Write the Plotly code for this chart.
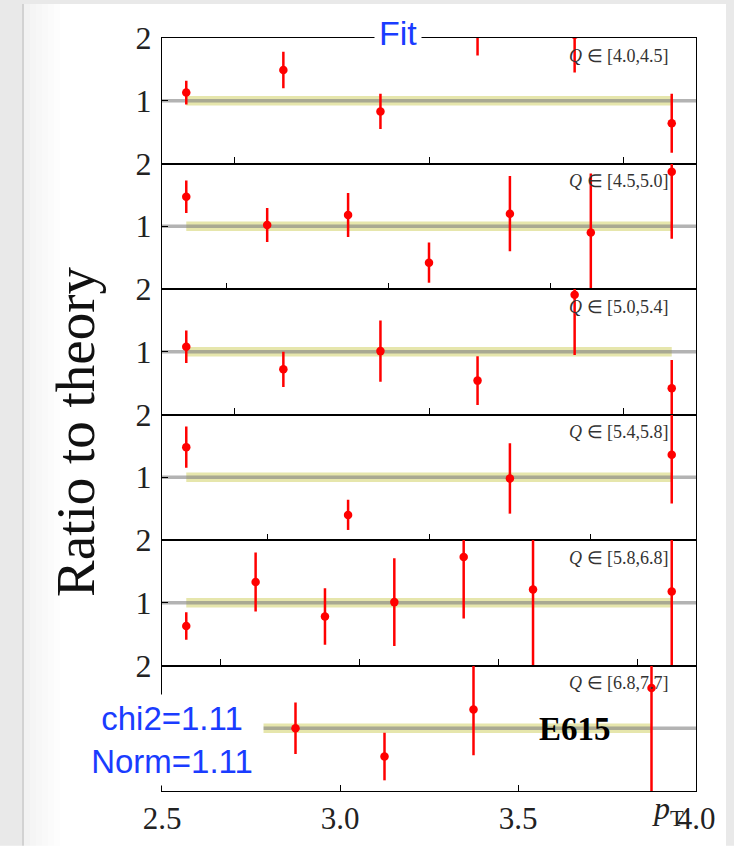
import plotly.graph_objects as go
from plotly.subplots import make_subplots

# ---------------- data ----------------
q_labels = ["[4.0,4.5]", "[4.5,5.0]", "[5.0,5.4]", "[5.4,5.8]", "[5.8,6.8]", "[6.8,7.7]"]

x_q1 = [0.375, 0.625, 0.875, 1.125, 1.375, 1.625]
r_q1 = [1.13, 1.49, 0.83, 2.15, 2.05, 0.64]
e_q1 = [0.19, 0.29, 0.28, 0.43, 0.60, 0.47]

x_q2 = [0.375, 0.625, 0.875, 1.125, 1.375, 1.625, 1.875]
r_q2 = [1.47, 1.02, 1.18, 0.42, 1.20, 0.90, 1.87]
e_q2 = [0.26, 0.27, 0.35, 0.32, 0.60, 0.94, 1.07]

x_q3 = [0.375, 0.625, 0.875, 1.125, 1.375, 1.625]
r_q3 = [1.08, 0.72, 1.01, 0.54, 1.91, 0.42]
e_q3 = [0.26, 0.28, 0.49, 0.39, 0.96, 0.45]

x_q4 = [0.25, 0.75, 1.25, 1.75]
r_q4 = [1.48, 0.40, 0.98, 1.36]
e_q4 = [0.33, 0.24, 0.56, 0.78]

x_q5 = [0.375, 0.625, 0.875, 1.125, 1.375, 1.625, 2.125]
r_q5 = [0.63, 1.33, 0.78, 1.01, 1.73, 1.21, 1.18]
e_q5 = [0.22, 0.47, 0.45, 0.70, 0.98, 1.30, 1.30]

x_q6 = [2.875, 3.125, 3.375, 3.875]
r_q6 = [1.00, 0.55, 1.30, 1.64]
e_q6 = [0.41, 0.38, 0.73, 1.80]

band_half = 0.075
theory = 1.0

upper_ticks = [[0.5, 1.0, 1.5], [0.5, 1.0, 1.5], [0.5, 1.0, 1.5], [0.5, 1.0, 1.5],
               [0.5, 1.0, 1.5, 2.0]]
bottom_ticks = [2.5, 3.0, 3.5, 4.0]
bottom_tick_text = ["2.5", "3.0", "3.5", "4.0"]
y_ticks = [1, 2]
y_tick_text = ["1", "2"]
y_tick_text_last = ["", "2"]   # the "1" of the last panel is hidden under the chi2 box

chi2_text = "chi2=1.11"
norm_text = "Norm=1.11"
title_text = "Fit"
dataset_text = "E615"
ylabel_text = "Ratio to theory"

panels = [(x_q1, r_q1, e_q1), (x_q2, r_q2, e_q2), (x_q3, r_q3, e_q3),
          (x_q4, r_q4, e_q4), (x_q5, r_q5, e_q5), (x_q6, r_q6, e_q6)]

# ---------------- figure ----------------
W, H = 734, 848
ML, MR, MT, MB = 162, 38, 38, 55
PW, PH = W - ML - MR, H - MT - MB


def px2x(px):
    return (px - ML) / PW


def px2y(py):
    return 1 - (py - MT) / PH


fig = make_subplots(rows=6, cols=1, vertical_spacing=0)

SERIF = "Liberation Serif"
SANS = "Liberation Sans"
BLUE = "#1a3cff"

for i, (xs, rs, es) in enumerate(panels):
    row = i + 1
    if i < 5:
        span = max(xs) - min(xs)
        xr = [min(xs) - 0.05 * span, max(xs) + 0.05 * span]
        band_x = [xs[0], xs[-1]]
    else:
        xr = [bottom_ticks[0], bottom_ticks[-1]]
        band_x = [bottom_ticks[0], xs[-1]]

    # uncertainty band
    fig.add_trace(go.Scatter(x=band_x, y=[theory - band_half] * 2, mode="lines",
                             line=dict(width=0, color="rgba(0,0,0,0)"),
                             hoverinfo="skip", showlegend=False), row=row, col=1)
    fig.add_trace(go.Scatter(x=band_x, y=[theory + band_half] * 2, mode="lines",
                             line=dict(width=0, color="rgba(0,0,0,0)"),
                             fill="tonexty", fillcolor="rgba(205,205,90,0.5)",
                             hoverinfo="skip", showlegend=False), row=row, col=1)
    # theory line
    fig.add_trace(go.Scatter(x=[xr[0] - 1, xr[1] + 1], y=[theory, theory], mode="lines",
                             line=dict(width=3.5, color="rgba(128,128,128,0.6)"),
                             hoverinfo="skip", showlegend=False), row=row, col=1)
    # data
    fig.add_trace(go.Scatter(x=xs, y=rs, mode="markers",
                             marker=dict(color="red", size=8.5),
                             error_y=dict(type="data", array=es, color="red",
                                          thickness=2.5, width=0),
                             showlegend=False), row=row, col=1)

    xaxis_kw = dict(range=xr, showgrid=False, zeroline=False, showline=True,
                    linecolor="black", linewidth=1.2, mirror=True,
                    ticks="inside", ticklen=6, tickwidth=1.2, tickcolor="black")
    if i < 5:
        xaxis_kw.update(tickvals=upper_ticks[i], showticklabels=False)
    else:
        xaxis_kw.update(tickvals=bottom_ticks, ticktext=bottom_tick_text,
                        showticklabels=True,
                        tickfont=dict(family=SERIF, size=31, color="#222"))
    fig.update_xaxes(row=row, col=1, **xaxis_kw)
    fig.update_yaxes(row=row, col=1, range=[0, 2], tickvals=y_ticks,
                     ticktext=y_tick_text if i < 5 else y_tick_text_last,
                     showgrid=False, zeroline=False, showline=True, linecolor="black",
                     linewidth=1.2, mirror=True, ticks="inside", ticklen=6,
                     tickwidth=1.2, tickcolor="black", ticklabelstandoff=3,
                     tickfont=dict(family=SERIF, size=32, color="#222"),
                     domain=[1 - (i + 1) / 6, 1 - i / 6])

    xref = "x domain" if row == 1 else f"x{row} domain"
    yref = "y domain" if row == 1 else f"y{row} domain"
    fig.add_annotation(x=px2x(671), y=1 - 18 / (PH / 6),
                       xref=xref, yref=yref, xanchor="right", yanchor="middle",
                       text="<i>Q</i> ∈ " + q_labels[i], showarrow=False,
                       font=dict(family=SERIF, size=18, color="#333"))

# dataset label
fig.add_annotation(x=px2x(575), y=px2y(731), xref="paper", yref="paper",
                   xanchor="center", yanchor="middle",
                   text="<b>" + dataset_text + "</b>", showarrow=False,
                   font=dict(family=SERIF, size=33, color="black"))

# chi2 / norm box
fig.add_annotation(x=px2x(172), y=px2y(742), xref="paper", yref="paper",
                   xanchor="center", yanchor="middle",
                   text=chi2_text + "<br>" + norm_text, showarrow=False, align="center",
                   width=172, bgcolor="white", borderpad=5,
                   font=dict(family=SANS, size=33, color=BLUE))

# title
fig.add_annotation(x=px2x(398), y=px2y(33), xref="paper", yref="paper",
                   xanchor="center", yanchor="middle",
                   text=title_text, showarrow=False, bgcolor="white", borderpad=4,
                   font=dict(family=SANS, size=34, color=BLUE))

# y label
fig.add_annotation(x=px2x(76), y=px2y(433), xref="paper", yref="paper",
                   xanchor="center", yanchor="middle",
                   text=ylabel_text, textangle=-90, showarrow=False,
                   font=dict(family=SERIF, size=55, color="#111"))

# p_T label
fig.add_annotation(x=px2x(650), y=px2y(813), xref="paper", yref="paper",
                   xanchor="left", yanchor="middle",
                   text="<i>p</i><sub>T</sub>", showarrow=False,
                   font=dict(family=SERIF, size=32, color="#222"))

# window chrome around the figure (screenshot border)
shapes = []
gray = "#e9e9e9"
shapes.append(dict(type="rect", xref="paper", yref="paper", x0=px2x(0), x1=px2x(W),
                   y0=px2y(0), y1=px2y(4), fillcolor=gray, line_width=0, layer="below"))
shapes.append(dict(type="rect", xref="paper", yref="paper", x0=px2x(0), x1=px2x(22),
                   y0=px2y(0), y1=px2y(H), fillcolor=gray, line_width=0, layer="below"))
shapes.append(dict(type="rect", xref="paper", yref="paper", x0=px2x(22), x1=px2x(24),
                   y0=px2y(4), y1=px2y(H), fillcolor="#d2d2d2", line_width=0, layer="below"))
shade = [242, 245, 247, 249, 251, 253]
for k, v in enumerate(shade):
    shapes.append(dict(type="rect", xref="paper", yref="paper",
                       x0=px2x(24 + 6 * k), x1=px2x(30 + 6 * k),
                       y0=px2y(4), y1=px2y(H), fillcolor=f"rgb({v},{v},{v})",
                       line_width=0, layer="below"))
shapes.append(dict(type="rect", xref="paper", yref="paper", x0=px2x(726), x1=px2x(W),
                   y0=px2y(0), y1=px2y(H), fillcolor=gray, line_width=0, layer="below"))

fig.update_layout(width=W, height=H, margin=dict(l=ML, r=MR, t=MT, b=MB),
                  paper_bgcolor="white", plot_bgcolor="white", showlegend=False,
                  shapes=shapes)

fig.write_html("out.html")
